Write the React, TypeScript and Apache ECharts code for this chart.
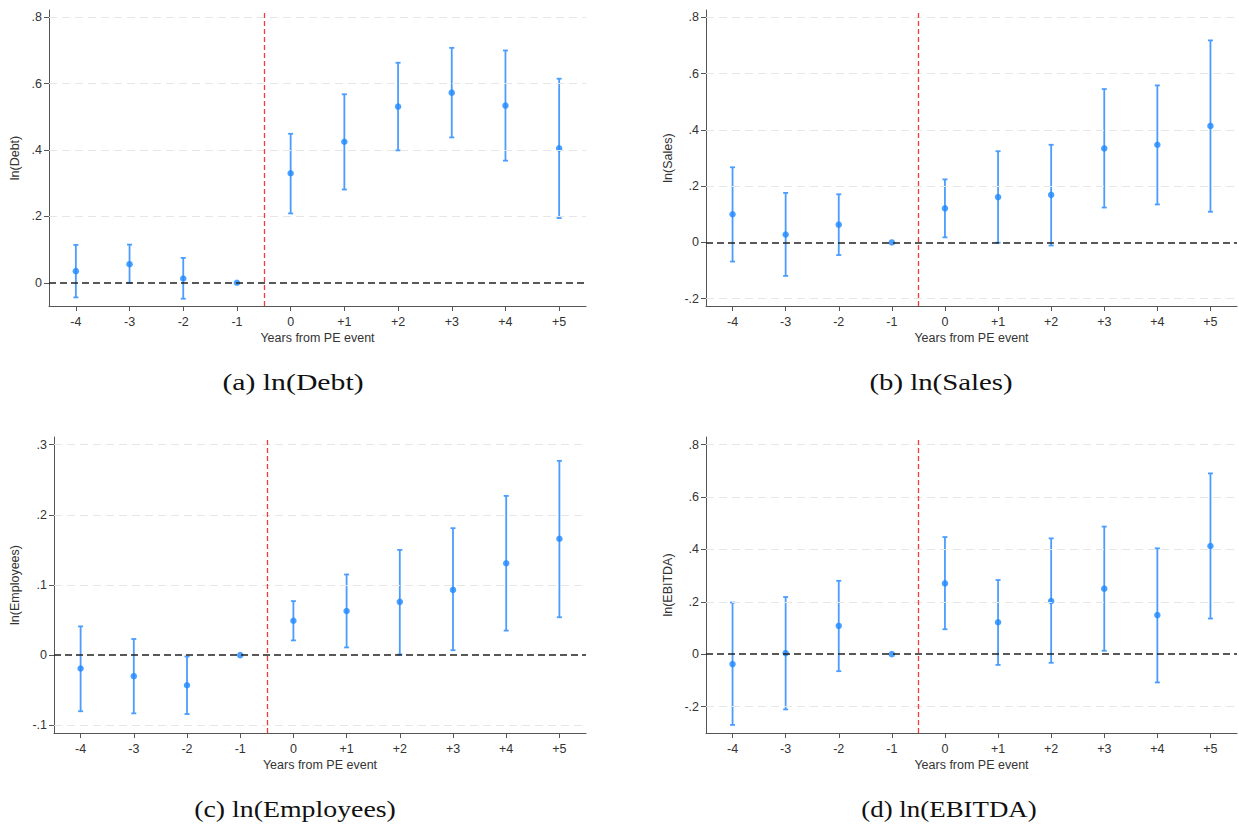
import React, { useEffect, useRef } from "react";
import * as echarts from "echarts";

// ---------- Data ----------
const YEARS = [-4, -3, -2, -1, 0, 1, 2, 3, 4, 5];
const X_AXIS_TITLE = "Years from PE event";

const DEBT_EST = [0.035, 0.056, 0.013, 0, 0.33, 0.425, 0.531, 0.573, 0.534, 0.405];
const DEBT_LO = [-0.044, 0.0, -0.048, 0, 0.209, 0.281, 0.399, 0.438, 0.368, 0.195];
const DEBT_HI = [0.114, 0.115, 0.075, 0, 0.449, 0.568, 0.663, 0.708, 0.7, 0.615];
const DEBT_TICKS = [0, 0.2, 0.4, 0.6, 0.8];

const SALES_EST = [0.1, 0.028, 0.063, 0, 0.121, 0.161, 0.169, 0.334, 0.347, 0.414];
const SALES_LO = [-0.068, -0.119, -0.045, 0, 0.018, -0.001, -0.011, 0.124, 0.135, 0.109];
const SALES_HI = [0.267, 0.176, 0.171, 0, 0.224, 0.324, 0.347, 0.545, 0.558, 0.718];
const SALES_TICKS = [-0.2, 0, 0.2, 0.4, 0.6, 0.8];

const EMP_EST = [-0.019, -0.03, -0.043, 0, 0.049, 0.063, 0.076, 0.093, 0.131, 0.166];
const EMP_LO = [-0.08, -0.083, -0.084, 0, 0.021, 0.011, 0.001, 0.007, 0.035, 0.054];
const EMP_HI = [0.041, 0.023, -0.002, 0, 0.077, 0.115, 0.15, 0.181, 0.227, 0.277];
const EMP_TICKS = [-0.1, 0, 0.1, 0.2, 0.3];

const EBITDA_EST = [-0.038, 0.004, 0.108, 0, 0.27, 0.122, 0.203, 0.25, 0.149, 0.413];
const EBITDA_LO = [-0.27, -0.211, -0.065, 0, 0.095, -0.041, -0.033, 0.013, -0.108, 0.136];
const EBITDA_HI = [0.197, 0.218, 0.28, 0, 0.447, 0.283, 0.442, 0.487, 0.404, 0.69];
const EBITDA_TICKS = [-0.2, 0, 0.2, 0.4, 0.6, 0.8];

const PANELS = [
  { yName: "ln(Debt)", caption: "(a) ln(Debt)", est: DEBT_EST, lo: DEBT_LO, hi: DEBT_HI, ticks: DEBT_TICKS, ymin: -0.07, ymax: 0.822,
    grid: { left: 49, top: 10, width: 537, height: 296 }, nameGap: 28, cap: { x: 293, y: 382 }, capScale: 1.24 },
  { yName: "ln(Sales)", caption: "(b) ln(Sales)", est: SALES_EST, lo: SALES_LO, hi: SALES_HI, ticks: SALES_TICKS, ymin: -0.226, ymax: 0.826,
    grid: { left: 706, top: 10, width: 531, height: 296 }, nameGap: 32, cap: { x: 941, y: 382 }, capScale: 1.2 },
  { yName: "ln(Employees)", caption: "(c) ln(Employees)", est: EMP_EST, lo: EMP_LO, hi: EMP_HI, ticks: EMP_TICKS, ymin: -0.111, ymax: 0.311,
    grid: { left: 54, top: 437, width: 532, height: 296 }, nameGap: 33, cap: { x: 295, y: 809 }, capScale: 1.16 },
  { yName: "ln(EBITDA)", caption: "(d) ln(EBITDA)", est: EBITDA_EST, lo: EBITDA_LO, hi: EBITDA_HI, ticks: EBITDA_TICKS, ymin: -0.301, ymax: 0.829,
    grid: { left: 706, top: 437, width: 531, height: 296 }, nameGap: 32, cap: { x: 949, y: 809 }, capScale: 1.12 },
];

const FONT = "'Liberation Sans', Arial, sans-serif";
const SERIF = "'Liberation Serif', 'Times New Roman', serif";
const AXIS_COLOR = "#555";
const POINT_COLOR = "#1e88ff";
const BAR_COLOR = "#4a9dff";

function fmtY(v: number) {
  if (v === 0) return "0";
  const s = String(Math.abs(+v.toFixed(3))).replace(/^0/, "");
  return (v < 0 ? "-" : "") + s;
}
function fmtX(v: number) {
  return v > 0 ? "+" + v : String(v);
}

export default function App() {
  const ref = useRef<HTMLDivElement>(null);
  useEffect(() => {
    if (!ref.current) return;
    const chart = echarts.init(ref.current, null, { renderer: "svg" });
    const grids: any[] = [];
    const xAxes: any[] = [];
    const yAxes: any[] = [];
    const series: any[] = [];
    const graphics: any[] = [];

    PANELS.forEach((p, i) => {
      grids.push({ ...p.grid, containLabel: false });
      xAxes.push({
        gridIndex: i,
        type: "value",
        min: -4.5,
        max: 5.5,
        name: X_AXIS_TITLE,
        nameLocation: "middle",
        nameGap: 25,
        nameTextStyle: { fontFamily: FONT, fontSize: 12.5, color: "#333" },
        axisLine: { show: true, onZero: false, lineStyle: { color: AXIS_COLOR, width: 1 } },
        axisTick: { show: true, length: 5, customValues: YEARS, lineStyle: { color: AXIS_COLOR } },
        axisLabel: { customValues: YEARS, formatter: fmtX, fontFamily: FONT, fontSize: 12.5, color: "#333", margin: 9 },
        splitLine: { show: false },
      });
      yAxes.push({
        gridIndex: i,
        type: "value",
        min: p.ymin,
        max: p.ymax,
        name: p.yName,
        nameLocation: "middle",
        nameGap: p.nameGap,
        nameTextStyle: { fontFamily: FONT, fontSize: 12.5, color: "#333" },
        axisLine: { show: true, onZero: false, lineStyle: { color: AXIS_COLOR, width: 1 } },
        axisTick: { show: true, length: 5, customValues: p.ticks, lineStyle: { color: AXIS_COLOR } },
        axisLabel: { customValues: p.ticks, formatter: fmtY, fontFamily: FONT, fontSize: 12.5, color: "#333", margin: 7 },
        splitLine: { show: false },
      });
      // grid lines
      series.push({
        type: "scatter",
        xAxisIndex: i,
        yAxisIndex: i,
        data: [],
        silent: true,
        z: 1,
        markLine: {
          silent: true,
          symbol: "none",
          label: { show: false },
          lineStyle: { color: "#e6e6e6", width: 1, type: [8, 5] },
          data: p.ticks.filter((t) => t !== 0).map((t) => ({ yAxis: t })),
        },
      });
      // reference lines
      series.push({
        type: "scatter",
        xAxisIndex: i,
        yAxisIndex: i,
        data: [],
        silent: true,
        z: 2,
        markLine: {
          silent: true,
          symbol: "none",
          label: { show: false },
          data: [
            { xAxis: -0.5, lineStyle: { color: "#f03c3c", width: 1.3, type: [5, 3] } },
            { yAxis: 0, lineStyle: { color: "#222", width: 1.5, type: [7, 4] } },
          ],
        },
      });
      // error bars
      series.push({
        type: "custom",
        xAxisIndex: i,
        yAxisIndex: i,
        z: 3,
        silent: true,
        encode: { x: 0, y: [1, 2] },
        data: YEARS.map((yr, k) => [yr, p.lo[k], p.hi[k]]),
        renderItem: (params: any, api: any) => {
          const x = api.value(0);
          const lo = api.value(1);
          const hi = api.value(2);
          if (lo === hi) return { type: "group", children: [] };
          const a = api.coord([x, hi]);
          const b = api.coord([x, lo]);
          const w = 2.5;
          const st = { stroke: BAR_COLOR, lineWidth: 1.8 };
          return {
            type: "group",
            children: [
              { type: "line", shape: { x1: a[0], y1: a[1], x2: b[0], y2: b[1] }, style: st },
              { type: "line", shape: { x1: a[0] - w, y1: a[1], x2: a[0] + w, y2: a[1] }, style: st },
              { type: "line", shape: { x1: b[0] - w, y1: b[1], x2: b[0] + w, y2: b[1] }, style: st },
            ],
          };
        },
      });
      // point estimates
      series.push({
        type: "scatter",
        xAxisIndex: i,
        yAxisIndex: i,
        z: 4,
        symbol: "circle",
        symbolSize: 6.5,
        itemStyle: { color: POINT_COLOR },
        data: YEARS.map((yr, k) => [yr, p.est[k]]),
      });
      graphics.push({
        type: "text",
        x: p.cap.x,
        y: p.cap.y,
        scaleX: p.capScale,
        style: {
          text: p.caption,
          fontFamily: SERIF,
          fontSize: 24,
          fill: "#111",
          textAlign: "center",
          textVerticalAlign: "middle",
        },
      });
    });

    chart.setOption({
      animation: false,
      backgroundColor: "#fff",
      grid: grids,
      xAxis: xAxes,
      yAxis: yAxes,
      series,
      graphic: graphics,
    });
    return () => chart.dispose();
  }, []);
  return (
    <div
      ref={ref}
      style={{ position: "absolute", left: 0, top: 0, width: 1239, height: 828 }}
    />
  );
}
